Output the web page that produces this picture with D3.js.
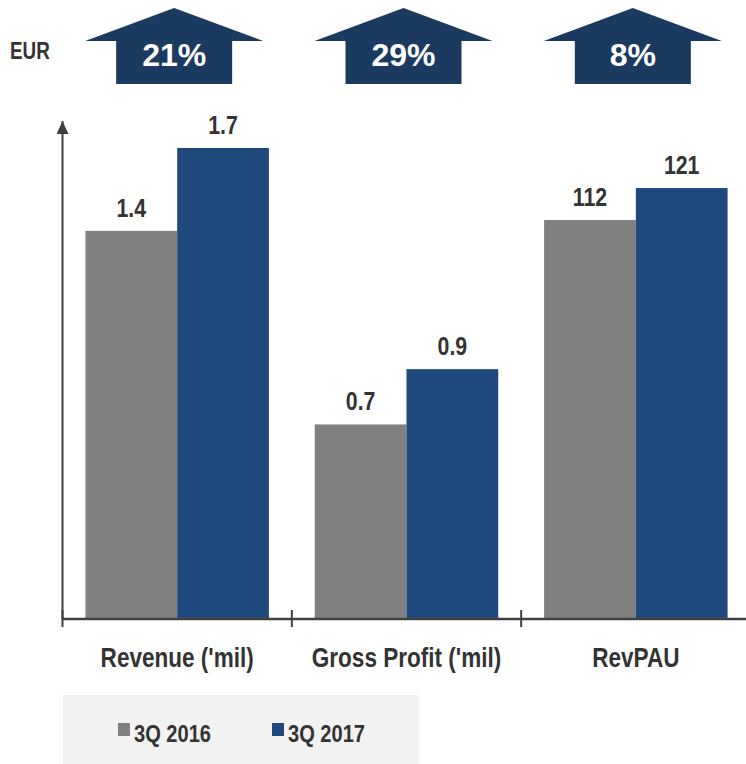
<!DOCTYPE html>
<html>
<head>
<meta charset="utf-8">
<script src="https://cdn.jsdelivr.net/npm/d3@7/dist/d3.min.js"></script>
<style>
  html, body { margin: 0; padding: 0; background: #ffffff; }
  svg { display: block; font-family: "Liberation Sans", Arial, sans-serif; }
</style>
</head>
<body>
<svg id="chart" width="746" height="764"></svg>
<script>
// Categories and series
const categories = ["Revenue ('mil)", "Gross Profit ('mil)", "RevPAU"];
const seriesNames = ["3Q 2016", "3Q 2017"];
const values2016 = [1.4, 0.7, 112];
const values2017 = [1.7, 0.9, 121];
const growthLabels = ["21%", "29%", "8%"];
const unitLabel = "EUR";
// Which value scale each category uses ('mil' amounts vs. per-unit revenue)
const scaleGroup = ["mil", "mil", "unit"];

const colors = { "3Q 2016": "#808080", "3Q 2017": "#1f497d" };
const arrowColor = "#1b3a5f";
const textColor = "#333333";
const axisColor = "#404040";
// Horizontal squeeze giving the bold labels a tall, condensed look
const squeeze = 0.82;

const svg = d3.select("#chart");

// Places a text at (x, y), condensed horizontally around its anchor
function place(sel, fx, fy) {
  return sel.attr("transform", (d, i) => `translate(${fx(d, i)},${fy(d, i)}) scale(${squeeze},1)`);
}

const baseY = 618;
const x0 = d3.scaleBand().domain(categories).range([62.5, 750.5]).paddingInner(0).paddingOuter(0);
const x1 = d3.scaleBand().domain(seriesNames).range([0, x0.bandwidth()]).paddingInner(0).paddingOuter(0.25);

const yScales = {
  mil: d3.scaleLinear().domain([0, 2]).range([baseY, 65]),
  unit: d3.scaleLinear().domain([0, 150]).range([baseY, 85])
};

const rows = categories.map((c, i) => ({
  category: c,
  scale: yScales[scaleGroup[i]],
  values: [
    { series: seriesNames[0], value: values2016[i] },
    { series: seriesNames[1], value: values2017[i] }
  ],
  growth: growthLabels[i]
}));

// Bars
const groups = svg.append("g").selectAll("g")
  .data(rows).join("g")
  .attr("transform", d => `translate(${x0(d.category)},0)`);

groups.selectAll("rect")
  .data(d => d.values.map(v => ({ ...v, scale: d.scale })))
  .join("rect")
  .attr("x", d => x1(d.series))
  .attr("width", x1.bandwidth())
  .attr("y", d => d.scale(d.value))
  .attr("height", d => baseY - d.scale(d.value))
  .attr("fill", d => colors[d.series]);

// Value labels
place(groups.selectAll("text.val")
  .data(d => d.values.map(v => ({ ...v, scale: d.scale })))
  .join("text")
  .attr("class", "val"),
  d => x1(d.series) + x1.bandwidth() / 2,
  d => d.scale(d.value) - 14)
  .attr("text-anchor", "middle")
  .attr("font-size", 26)
  .attr("font-weight", "bold")
  .attr("fill", textColor)
  .text(d => d.value);

// Axes
const axisY = 619;
svg.append("defs").append("marker")
  .attr("id", "arrowHead")
  .attr("viewBox", "0 0 12 13")
  .attr("refX", 6).attr("refY", 0)
  .attr("markerWidth", 12).attr("markerHeight", 13)
  .attr("markerUnits", "userSpaceOnUse")
  .attr("orient", "0")
  .append("path")
  .attr("d", "M0,13 L6,0 L12,13 Z")
  .attr("fill", axisColor);

svg.append("line")
  .attr("x1", x0.range()[0]).attr("x2", x0.range()[0])
  .attr("y1", axisY).attr("y2", 121)
  .attr("stroke", axisColor).attr("stroke-width", 2)
  .attr("marker-end", "url(#arrowHead)");

svg.append("line")
  .attr("x1", x0.range()[0]).attr("x2", 746)
  .attr("y1", axisY).attr("y2", axisY)
  .attr("stroke", axisColor).attr("stroke-width", 2.5);

svg.append("g").selectAll("line")
  .data(categories)
  .join("line")
  .attr("x1", d => x0(d)).attr("x2", d => x0(d))
  .attr("y1", 610).attr("y2", 627)
  .attr("stroke", axisColor).attr("stroke-width", 2);

// Category labels
place(svg.append("g").selectAll("text")
  .data(categories)
  .join("text"),
  d => x0(d) + x0.bandwidth() / 2,
  () => 667)
  .attr("text-anchor", "middle")
  .attr("font-size", 27.5)
  .attr("font-weight", "bold")
  .attr("fill", textColor)
  .text(d => d);

// Growth arrows
const arrowW = 178, bodyW = 116, tipTop = 8, wingY = 41, bodyBottom = 84;
const arrows = svg.append("g").selectAll("g")
  .data(rows).join("g")
  .attr("transform", d => `translate(${x0(d.category) + x0.bandwidth() / 2 - 3},0)`);

arrows.append("path")
  .attr("d", `M0,${tipTop} L${arrowW / 2},${wingY} L${bodyW / 2},${wingY} L${bodyW / 2},${bodyBottom}
              L${-bodyW / 2},${bodyBottom} L${-bodyW / 2},${wingY} L${-arrowW / 2},${wingY} Z`)
  .attr("fill", arrowColor);

arrows.append("text")
  .attr("x", 0)
  .attr("y", 66)
  .attr("text-anchor", "middle")
  .attr("font-size", 32)
  .attr("font-weight", "bold")
  .attr("fill", "#ffffff")
  .text(d => d.growth);

// Unit label
place(svg.append("text").datum(unitLabel), () => 10, () => 59)
  .attr("font-size", 23)
  .attr("font-weight", "bold")
  .attr("fill", textColor)
  .text(d => d);

// Legend
const legend = svg.append("g");
legend.append("rect")
  .attr("x", 63).attr("y", 695)
  .attr("width", 356).attr("height", 69)
  .attr("fill", "#f2f2f2");

const legendX = d3.scalePoint().domain(seriesNames).range([118, 272]);
const items = legend.selectAll("g.item")
  .data(seriesNames).join("g")
  .attr("class", "item")
  .attr("transform", d => `translate(${legendX(d)},0)`);
items.append("rect")
  .attr("x", 0).attr("y", 723)
  .attr("width", 12).attr("height", 13)
  .attr("fill", d => colors[d]);
place(items.append("text"), () => 16, () => 742)
  .attr("font-size", 24.5)
  .attr("font-weight", "bold")
  .attr("fill", textColor)
  .text(d => d);
</script>
</body>
</html>
